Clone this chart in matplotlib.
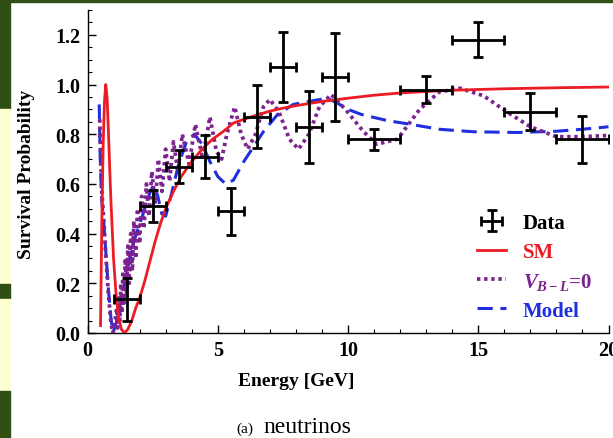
import numpy as np
import matplotlib
matplotlib.use('Agg')
import matplotlib.pyplot as plt
from matplotlib.patches import Rectangle

plt.rcParams['font.family'] = ['Liberation Serif', 'DejaVu Serif']
plt.rcParams['font.weight'] = 'bold'
plt.rcParams['mathtext.fontset'] = 'custom'
plt.rcParams['mathtext.it'] = 'Liberation Serif:italic:bold'
plt.rcParams['mathtext.rm'] = 'Liberation Serif:bold'

# data points (energy, survival probability, errors)
energy = [1.5, 2.5, 3.5, 4.5, 5.5, 6.5, 7.5, 8.5, 9.5, 11, 13, 15, 17, 19]
prob = [0.135, 0.51, 0.67, 0.71, 0.49, 0.87, 1.07, 0.83, 1.03, 0.78, 0.98, 1.18, 0.89, 0.78]
e_err = [0.5, 0.5, 0.5, 0.5, 0.5, 0.5, 0.5, 0.5, 0.5, 1, 1, 1, 1, 1]
p_err = [0.088, 0.065, 0.067, 0.085, 0.095, 0.127, 0.14, 0.146, 0.178, 0.042, 0.054, 0.07, 0.074, 0.095]

# SM curve
sm_e = [0.5, 0.52, 0.55, 0.6, 0.65, 0.7, 0.75, 0.8, 0.85, 0.9, 1.0, 1.1, 1.2, 1.3, 1.42,
        1.55, 1.7, 1.85, 2.0, 2.2, 2.4, 2.6, 2.8, 3.0, 3.3, 3.6, 4.0, 4.4, 4.8, 5.2,
        5.6, 6.0, 6.5, 7.0, 7.5, 8.0, 9.0, 10, 11, 12, 13, 14, 16, 18, 20]
sm_p = [0.03, 0.2, 0.45, 0.75, 0.93, 1.0, 0.95, 0.82, 0.67, 0.53, 0.3, 0.15, 0.06, 0.015, 0.0,
        0.015, 0.05, 0.1, 0.14, 0.21, 0.29, 0.37, 0.44, 0.5, 0.57, 0.63, 0.69, 0.74, 0.78, 0.81,
        0.845, 0.86, 0.877, 0.893, 0.905, 0.915, 0.932, 0.945, 0.957, 0.966, 0.972, 0.977, 0.983, 0.987, 0.99]

# V_B-L = 0 curve
vbl_e = [0.47, 0.5, 0.55, 0.62, 0.7, 0.8, 0.9, 0.97, 1.04, 1.12, 1.16, 1.2, 1.24, 1.28, 1.32,
         1.36, 1.4, 1.45, 1.5, 1.55, 1.6, 1.66, 1.72, 1.78, 1.85, 1.92, 2.0, 2.08, 2.17, 2.26,
         2.36, 2.47, 2.6, 2.72, 2.86, 3.0, 3.15, 3.3, 3.47, 3.64, 3.9, 4.14, 4.42, 4.7, 4.95,
         5.15, 5.35, 5.65, 5.9, 6.15, 6.45, 6.75, 7.0, 7.35, 7.75, 8.1, 8.5, 8.9, 9.35, 9.9,
         10.6, 11.1, 11.9, 12.75, 13.5, 14.3, 15.2, 16.1, 17.0, 18.0, 19.0, 20]
vbl_p = [0.86, 0.72, 0.57, 0.46, 0.32, 0.16, 0.04, 0.0, 0.03, 0.10, 0.02, 0.15, 0.05, 0.2, 0.08,
         0.25, 0.12, 0.3, 0.16, 0.35, 0.2, 0.4, 0.25, 0.45, 0.3, 0.5, 0.36, 0.55, 0.42, 0.6,
         0.47, 0.65, 0.52, 0.7, 0.57, 0.74, 0.61, 0.77, 0.65, 0.8, 0.68, 0.84, 0.70, 0.87, 0.73,
         0.70, 0.8, 0.91, 0.8, 0.74, 0.8, 0.91, 0.94, 0.89, 0.78, 0.74, 0.8, 0.91, 0.96, 0.9,
         0.81, 0.76, 0.78, 0.9, 0.97, 0.985, 0.955, 0.89, 0.83, 0.79, 0.79, 0.795]

# Model curve
mod_e = [0.45, 0.47, 0.5, 0.55, 0.62, 0.7, 0.8, 0.9, 0.98, 1.1, 1.25, 1.46, 1.72, 2.07, 2.38,
         2.55, 2.7, 2.85, 3.0, 3.2, 3.5, 3.8, 4.1, 4.4, 4.7, 5.0, 5.3, 5.6, 6.0, 6.25, 6.75,
         7.3, 7.9, 8.66, 9.2, 9.6, 10.0, 10.5, 11.5, 12.4, 13.5, 14.8, 16.5, 18, 19, 20]
mod_p = [0.92, 0.8, 0.66, 0.53, 0.45, 0.33, 0.18, 0.06, 0.0, 0.04, 0.11, 0.22, 0.35, 0.46, 0.56,
         0.6, 0.55, 0.48, 0.47, 0.55, 0.68, 0.77, 0.8, 0.76, 0.69, 0.63, 0.6, 0.615, 0.69, 0.73, 0.81,
         0.88, 0.92, 0.935, 0.945, 0.925, 0.9, 0.88, 0.855, 0.84, 0.82, 0.81, 0.807, 0.812, 0.82, 0.83]

red = '#ec1c24'
purple = '#7c2390'
blue = '#1e2ee0'

fig = plt.figure(figsize=(6.13, 4.39), dpi=100)

# slide background bits on the left / top
green = '#2f4f13'
yellow = '#ffffd4'
fig.patches.append(Rectangle((0, 1 - 2.5 / 439), 1, 2.5 / 439, transform=fig.transFigure, color=green, zorder=0))
W = 10 / 613
for y0, y1, c in [(0, 110, green), (110, 285, yellow), (285, 300, green), (300, 392, yellow), (392, 439, green)]:
    fig.patches.append(Rectangle((0, 1 - y1 / 439), W, (y1 - y0) / 439, transform=fig.transFigure, color=c, zorder=0))

ax = fig.add_axes([87.5 / 613, 1 - 334 / 439, 521 / 613, 323 / 439])
ax.patch.set_alpha(0)

ax.plot(mod_e, mod_p, color=blue, lw=2.2, linestyle=(0, (5, 2.5)), label='Model', zorder=2)
ax.plot(vbl_e, vbl_p, color=purple, lw=2.7, linestyle=(0, (0.9, 1.0)), label=r'$V_{B-L}$=0', zorder=3)
ax.plot(sm_e, sm_p, color=red, lw=2.0, label='SM', zorder=4)
eb = ax.errorbar(energy, prob, xerr=e_err, yerr=p_err, fmt='none', ecolor='black',
                 elinewidth=2.0, capsize=3.5, capthick=2.0, label='Data', zorder=5)

ax.set_xlim(0, 20)
ax.set_ylim(0, 1.3)
ax.set_xticks([0, 5, 10, 15, 20])
ax.set_xticks(np.arange(0, 21, 1), minor=True)
ax.set_yticks([0.0, 0.2, 0.4, 0.6, 0.8, 1.0, 1.2])
ax.set_yticks(np.arange(0, 1.31, 0.05), minor=True)
ax.set_yticklabels(['0.0', '0.2', '0.4', '0.6', '0.8', '1.0', '1.2'])
ax.tick_params(direction='in', labelsize=14.5, length=6, width=1, pad=5)
ax.tick_params(which='minor', direction='in', length=3, width=0.8)
ax.spines['top'].set_visible(False)
ax.spines['right'].set_visible(False)
for s in ['left', 'bottom']:
    ax.spines[s].set_linewidth(1.0)

handles = [eb, ax.lines[2], ax.lines[1], ax.lines[0]]
labels = ['Data', 'SM', r'$V_{B-L}$=0', 'Model']
leg = ax.legend(handles, labels, loc='upper left', bbox_to_anchor=(0.748, 0.372), frameon=False,
                borderpad=0, borderaxespad=0, handlelength=1.4, handletextpad=0.8,
                labelspacing=0.43, prop={'size': 15, 'weight': 'bold'},
                labelcolor=['black', red, purple, blue])

fig.text(26.5 / 613, 1 - 174 / 439, 'Survival Probability', rotation=90, ha='center', va='center', fontsize=14)
fig.text(296 / 613, 1 - 382 / 439, 'Energy [GeV]', ha='center', va='center', fontsize=14)
fig.text(236 / 613, 1 - 433 / 439, '(a)', ha='left', va='baseline', fontsize=11, fontweight='normal')
fig.text(263 / 613, 1 - 433 / 439, 'neutrinos', ha='left', va='baseline', fontsize=17, fontweight='normal')

fig.savefig('out.png', dpi=100)
